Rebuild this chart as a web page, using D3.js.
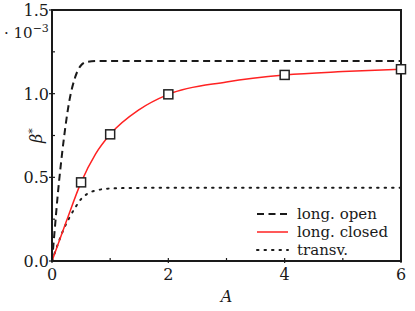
<!DOCTYPE html>
<html>
<head>
<meta charset="utf-8">
<script src="https://cdn.jsdelivr.net/npm/d3@7"></script>
<style>
  body { margin: 0; background: #fff; }
  text { font-family: "DejaVu Serif", serif; fill: #1a1a1a; }
</style>
</head>
<body>
<div id="chart"></div>
<script>
// long. open (dashed)
const openA = [0, 0.05, 0.1, 0.15, 0.2, 0.3, 0.4, 0.5, 0.6, 0.8, 1, 2, 4, 6];
const openB = [0, 0.2, 0.4, 0.57, 0.72, 0.96, 1.1, 1.17, 1.19, 1.195, 1.195, 1.195, 1.195, 1.195];

// long. closed (red line)
const closedA = [0, 0.25, 0.5, 0.75, 1, 1.5, 2, 3, 4, 5, 6];
const closedB = [0, 0.24, 0.47, 0.64, 0.757, 0.905, 0.996, 1.07, 1.112, 1.132, 1.146];

// markers on the closed curve
const markA = [0.5, 1, 2, 4, 6];
const markB = [0.47, 0.757, 0.996, 1.112, 1.146];

// transv. (dotted)
const transA = [0, 0.1, 0.2, 0.3, 0.4, 0.5, 0.6, 0.8, 1, 1.5, 6];
const transB = [0, 0.1, 0.19, 0.26, 0.32, 0.37, 0.40, 0.425, 0.433, 0.437, 0.438];

const xTicks = [0, 2, 4, 6];
const xMinor = [1, 3, 5];
const yTicks = [0, 0.5, 1.0, 1.5];
const yMinor = [0.25, 0.75, 1.25];

const legendNames = ['long. open', 'long. closed', 'transv.'];

let width = 415,
    height = 311,
    mLeft = 52, mRight = 401, mTop = 10, mBottom = 261;

let x = d3.scaleLinear().domain([0, 6]).range([mLeft, mRight]);
let y = d3.scaleLinear().domain([0, 1.5]).range([mBottom, mTop]);

const svg = d3.select('#chart').append('svg')
    .attr('width', width)
    .attr('height', height);

const zip = (a, b) => a.map((v, i) => [v, b[i]]);
const line = d3.line()
    .x(d => x(d[0]))
    .y(d => y(d[1]))
    .curve(d3.curveMonotoneX);

const styles = [
    { stroke: '#1a1a1a', width: 2, dash: '7,4.5' },
    { stroke: '#f22', width: 1.5, dash: null },
    { stroke: '#1a1a1a', width: 2, dash: '1.5,6' }
];

// curves
svg.append('path')
    .attr('d', line(zip(openA, openB)))
    .attr('fill', 'none')
    .attr('stroke', styles[0].stroke)
    .attr('stroke-width', styles[0].width)
    .attr('stroke-dasharray', styles[0].dash);

svg.append('path')
    .attr('d', line(zip(transA, transB)))
    .attr('fill', 'none')
    .attr('stroke', styles[2].stroke)
    .attr('stroke-width', styles[2].width)
    .attr('stroke-dasharray', styles[2].dash)
    .attr('stroke-linecap', 'round');

svg.append('path')
    .attr('d', line(zip(closedA, closedB)))
    .attr('fill', 'none')
    .attr('stroke', styles[1].stroke)
    .attr('stroke-width', styles[1].width);

// frame
svg.append('rect')
    .attr('x', mLeft)
    .attr('y', mTop)
    .attr('width', mRight - mLeft)
    .attr('height', mBottom - mTop)
    .attr('fill', 'none')
    .attr('stroke', '#1a1a1a')
    .attr('stroke-width', 2);

// markers (drawn on top of frame)
svg.selectAll('rect.mark').data(zip(markA, markB))
    .enter().append('rect')
        .attr('class', 'mark')
        .attr('x', d => x(d[0]) - 4.5)
        .attr('y', d => y(d[1]) - 4.5)
        .attr('width', 9)
        .attr('height', 9)
        .attr('fill', '#fff')
        .attr('stroke', '#222')
        .attr('stroke-width', 1.5);

// ticks
const tickG = svg.append('g').attr('stroke', '#1a1a1a').attr('stroke-width', 1.2);
tickG.selectAll('line.xt').data(xTicks)
    .enter().append('line')
        .attr('x1', d => x(d)).attr('x2', d => x(d))
        .attr('y1', mBottom - 3).attr('y2', mBottom + 2);
tickG.selectAll('line.xm').data(xMinor)
    .enter().append('line')
        .attr('x1', d => x(d)).attr('x2', d => x(d))
        .attr('y1', mBottom - 3).attr('y2', mBottom);
tickG.selectAll('line.yt').data(yTicks)
    .enter().append('line')
        .attr('x1', mLeft - 3).attr('x2', mLeft + 3)
        .attr('y1', d => y(d)).attr('y2', d => y(d));
tickG.selectAll('line.ym').data(yMinor)
    .enter().append('line')
        .attr('x1', mLeft).attr('x2', mLeft + 3)
        .attr('y1', d => y(d)).attr('y2', d => y(d));

// tick labels
svg.selectAll('text.xl').data(xTicks)
    .enter().append('text')
        .attr('x', d => x(d))
        .attr('y', mBottom + 19)
        .attr('text-anchor', 'middle')
        .attr('font-size', 16)
        .text(d => d);

svg.selectAll('text.yl').data(yTicks)
    .enter().append('text')
        .attr('x', mLeft - 3)
        .attr('y', d => y(d) + 6)
        .attr('text-anchor', 'end')
        .attr('font-size', 16)
        .text(d => d.toFixed(1));

// scale factor
const sf = svg.append('text')
    .attr('x', 4)
    .attr('y', 38)
    .attr('font-size', 15);
sf.append('tspan').text('· 10');
sf.append('tspan').attr('dy', -6).attr('font-size', 11).text('−3');

// axis labels
svg.append('text')
    .attr('x', (mLeft + mRight) / 2)
    .attr('y', 302)
    .attr('text-anchor', 'middle')
    .attr('font-size', 16)
    .attr('font-style', 'italic')
    .text('A');

const yl = svg.append('text')
    .attr('transform', 'translate(42,' + ((mTop + mBottom) / 2) + ') rotate(-90)')
    .attr('text-anchor', 'middle')
    .attr('font-size', 16)
    .attr('font-style', 'italic');
yl.append('tspan').text('β');
yl.append('tspan').attr('dy', -6).attr('font-size', 11).attr('font-style', 'normal').text('*');

// legend
const leg = svg.append('g').attr('transform', 'translate(257,214)');
legendNames.forEach(function(name, i) {
    const row = leg.append('g').attr('transform', 'translate(0,' + (i * 18) + ')');
    row.append('line')
        .attr('x1', 0).attr('x2', 31)
        .attr('y1', 0).attr('y2', 0)
        .attr('stroke', styles[i].stroke)
        .attr('stroke-width', styles[i].width)
        .attr('stroke-dasharray', styles[i].dash)
        .attr('stroke-linecap', i === 2 ? 'round' : 'butt');
    row.append('text')
        .attr('x', 40)
        .attr('y', 5)
        .attr('font-size', 15)
        .text(name);
});
</script>
</body>
</html>
